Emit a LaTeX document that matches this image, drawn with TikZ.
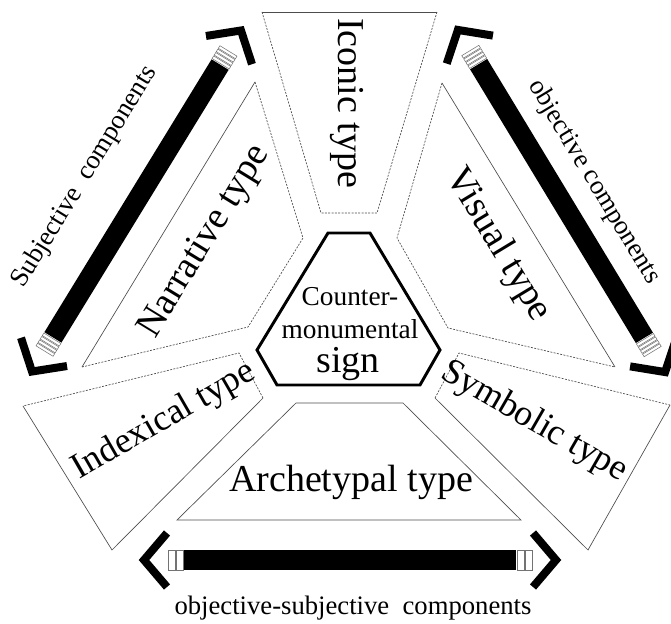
\documentclass[tikz,border=0pt]{standalone}
\usepackage{fontspec}
\setmainfont{Liberation Serif}
\usepackage{tikz}

% bar with striped ends and chevrons: half length, stripes, stripe width
\newcommand{\compbar}[3]{%
    \fill (-#1,-10) rectangle (#1,10);
    \foreach \k in {1,...,#2}{
        \draw[capstripe] ({#1+(\k-1)*#3+1},-10) rectangle ({#1+\k*#3},10);
        \draw[capstripe] ({-#1-(\k-1)*#3-1},-10) rectangle ({-#1-\k*#3},10);
    }
    \draw[bracket] ({#1+#2*#3+1},-27) -- ({#1+#2*#3+24},0) -- ({#1+#2*#3+1},27);
    \draw[bracket] ({-#1-#2*#3-1},-27) -- ({-#1-#2*#3-24},0) -- ({-#1-#2*#3-1},27);
}

\begin{document}
\begin{tikzpicture}[x=0.75pt, y=-0.75pt,
    cell/.style={draw=black!70, line width=0.5pt},
    celldash/.style={cell, dash pattern=on 1.5pt off 1pt},
    kind/.style={font=\fontsize{28.5}{31}\selectfont, inner sep=0pt},
    smallkind/.style={font=\fontsize{27}{30}\selectfont, inner sep=0pt},
    barlabel/.style={font=\fontsize{20}{24}\selectfont, inner sep=0pt},
    signtext/.style={font=\fontsize{20.5}{24}\selectfont, inner sep=0pt},
    capstripe/.style={draw=black!55, line width=0.4pt, fill=white},
    bracket/.style={line width=6pt, line join=miter}]
    \useasboundingbox (0,0) rectangle (671,624);

    \draw[cell] (262,12) -- (437,12);
    \draw[celldash] (262,12) -- (321,213) -- (377,213) -- (437,12);
    \draw[cell] (82,367) -- (255,82);
    \draw[celldash] (255,82) -- (303,238) -- (248,327) -- (82,367);
    \draw[cell] (442,83) -- (615,367);
    \draw[celldash] (442,83) -- (397,238) -- (448,328) -- (615,367);
    \draw[celldash] (435,398) -- (459,353) -- (670,405);
    \draw[cell] (670,405) -- (588,550) -- (435,398);
    \draw[celldash] (263,398) -- (239,353) -- (23,406);
    \draw[cell] (23,406) -- (112,550) -- (263,398);
    \draw[cell] (296,403) -- (403,403) -- (521,520) -- (177,520) -- cycle;
    \draw[line width=2.2pt, line join=miter]
        (328,233) -- (370,233) -- (440,350) -- (420,385) -- (277,385) -- (257,350) -- cycle;

    \begin{scope}[shift={(350,560)}]
        \compbar{166}{2}{8}
    \end{scope}
    \begin{scope}[shift={(136.5,201)}, rotate=58.5]
        \compbar{160}{4}{4}
    \end{scope}
    \begin{scope}[shift={(561.5,201)}, rotate=-58.8]
        \compbar{160}{4}{4}
    \end{scope}

    \node[barlabel, rotate=58.5] (subj) at (85,177) {Subjective\ \ components};
    \node[barlabel, rotate=-58.8] (obj) at (594,182) {objective components};
    \node[barlabel] (objsubj) at (353,608) {objective-subjective\ \ components};

    \node[kind, rotate=-90] (iconic) at (347,103) {Iconic type};
    \node[kind, rotate=58.5] (narrative) at (205,242) {Narrative type};
    \node[kind, rotate=-58.8] (visual) at (498,245) {Visual type};
    \node[smallkind, rotate=-30] (symbolic) at (534,422) {Symbolic type};
    \node[smallkind, rotate=30] (indexical) at (164,421) {Indexical type};
    \node[kind] (archetypal) at (351,482) {Archetypal type};

    \node[signtext, anchor=base] (counter) at (350,305) {Counter-};
    \node[signtext, anchor=base] (monumental) at (350,338) {monumental};
    \node[kind, anchor=base] (sign) at (348,372) {sign};
\end{tikzpicture}
\end{document}
